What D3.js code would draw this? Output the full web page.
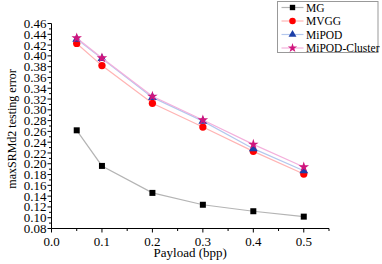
<!DOCTYPE html>
<html>
<head>
<meta charset="utf-8">
<script src="https://cdn.jsdelivr.net/npm/d3@7"></script>
<style>
  body { margin: 0; background: #fff; }
  svg { display: block; font-family: "Liberation Serif", "Times New Roman", serif; }
</style>
</head>
<body>
<div id="chart"></div>
<script>
const payloads = [0.05, 0.1, 0.2, 0.3, 0.4, 0.5];
const mgValues = [0.262, 0.196, 0.146, 0.124, 0.112, 0.102];
const mvggValues = [0.423, 0.382, 0.312, 0.268, 0.223, 0.181];
const mipodValues = [0.431, 0.395, 0.323, 0.279, 0.228, 0.187];
const mipodClusterValues = [0.433, 0.396, 0.325, 0.281, 0.236, 0.194];

const seriesNames = ["MG", "MVGG", "MiPOD", "MiPOD-Cluster"];
const xTickValues = [0.0, 0.1, 0.2, 0.3, 0.4, 0.5];

const WIDTH = 382;
const HEIGHT = 264;

const series = [
  { name: seriesNames[0], values: mgValues, line: "#b4b4b4", fill: "#000", symbol: d3.symbolSquare, size: 36 },
  { name: seriesNames[1], values: mvggValues, line: "#ffb4b4", fill: "#f00", symbol: d3.symbolCircle, size: 42 },
  { name: seriesNames[2], values: mipodValues, line: "#b4c8ee", fill: "#1c3fa8", symbol: d3.symbolTriangle, size: 34 },
  { name: seriesNames[3], values: mipodClusterValues, line: "#f4b0dc", fill: "#d0157d", symbol: d3.symbolStar, size: 34 },
];

const x = d3.scaleLinear([0, 0.55], [51.5, 329]);
const y = d3.scaleLinear([0.08, 0.46], [228.5, 23.5]);

const svg = d3.select("#chart")
  .append("svg")
  .attr("width", WIDTH)
  .attr("height", HEIGHT);

// y axis: labelled every 0.02, minor every 0.01
const yMajor = d3.range(0.08, 0.4601, 0.02);
const yMinor = d3.range(0.09, 0.46, 0.02);
const yAxis = svg.append("g").attr("transform", `translate(${x(0)},0)`);
yAxis.append("line")
  .attr("y1", y(0.08)).attr("y2", y(0.46))
  .attr("stroke", "#000");
yAxis.selectAll(".major")
  .data(yMajor)
  .join("line")
  .attr("x1", -4).attr("x2", 0)
  .attr("y1", (d) => y(d)).attr("y2", (d) => y(d))
  .attr("stroke", "#000");
yAxis.selectAll(".minor")
  .data(yMinor)
  .join("line")
  .attr("class", "minor")
  .attr("x1", -2.5).attr("x2", 0)
  .attr("y1", (d) => y(d)).attr("y2", (d) => y(d))
  .attr("stroke", "#000");
yAxis.selectAll("text")
  .data(yMajor)
  .join("text")
  .attr("x", -5)
  .attr("y", (d) => y(d))
  .attr("dy", "0.35em")
  .attr("text-anchor", "end")
  .style("font-size", "13px")
  .text((d) => d3.format(".2f")(d));

// x axis
const xAxis = svg.append("g").attr("transform", `translate(0,${y(0.08)})`);
xAxis.append("line")
  .attr("x1", x(0)).attr("x2", x(0.55))
  .attr("stroke", "#000");
xAxis.selectAll(".major")
  .data(xTickValues)
  .join("line")
  .attr("x1", (d) => x(d)).attr("x2", (d) => x(d))
  .attr("y1", 0).attr("y2", 4)
  .attr("stroke", "#000");
xAxis.selectAll(".minor")
  .data([0.05, 0.15, 0.25, 0.35, 0.45, 0.55])
  .join("line")
  .attr("class", "minor")
  .attr("x1", (d) => x(d)).attr("x2", (d) => x(d))
  .attr("y1", 0).attr("y2", 2.5)
  .attr("stroke", "#000");
xAxis.selectAll("text")
  .data(xTickValues)
  .join("text")
  .attr("x", (d) => x(d))
  .attr("y", 17)
  .attr("text-anchor", "middle")
  .style("font-size", "13px")
  .text((d) => d3.format(".1f")(d));

// axis titles
svg.append("text")
  .attr("x", x(0.275))
  .attr("y", 257)
  .attr("text-anchor", "middle")
  .style("font-size", "13px")
  .text("Payload (bpp)");

svg.append("text")
  .attr("transform", "translate(16,129) rotate(-90)")
  .attr("text-anchor", "middle")
  .style("font-size", "12px")
  .text("maxSRMd2 testing error");

// lines and markers
const line = d3.line()
  .x((d) => x(d[0]))
  .y((d) => y(d[1]));

series.forEach((s) => {
  const pts = d3.zip(payloads, s.values);
  svg.append("path")
    .attr("d", line(pts))
    .attr("fill", "none")
    .attr("stroke", s.line)
    .attr("stroke-width", 1.2);
  svg.append("g")
    .selectAll("path")
    .data(pts)
    .join("path")
    .attr("transform", (d) => `translate(${x(d[0])},${y(d[1])})`)
    .attr("d", d3.symbol(s.symbol, s.size))
    .attr("fill", s.fill);
});

// legend
const legend = svg.append("g").attr("transform", "translate(277.5,1.5)");
legend.append("rect")
  .attr("width", 100.5)
  .attr("height", 51)
  .attr("fill", "#fff")
  .attr("stroke", "#999");
const rows = legend.selectAll("g")
  .data(series)
  .join("g")
  .attr("transform", (d, i) => `translate(0,${6 + i * 13.5})`);
rows.append("line")
  .attr("x1", 4).attr("x2", 26)
  .attr("stroke", (d) => d.line)
  .attr("stroke-width", 1.2);
rows.append("path")
  .attr("transform", "translate(15,0)")
  .attr("d", (d) => d3.symbol(d.symbol, d.size * 0.8)())
  .attr("fill", (d) => d.fill);
rows.append("text")
  .attr("x", 28.5)
  .attr("dy", "0.35em")
  .style("font-size", "11.5px")
  .text((d) => d.name);
</script>
</body>
</html>
